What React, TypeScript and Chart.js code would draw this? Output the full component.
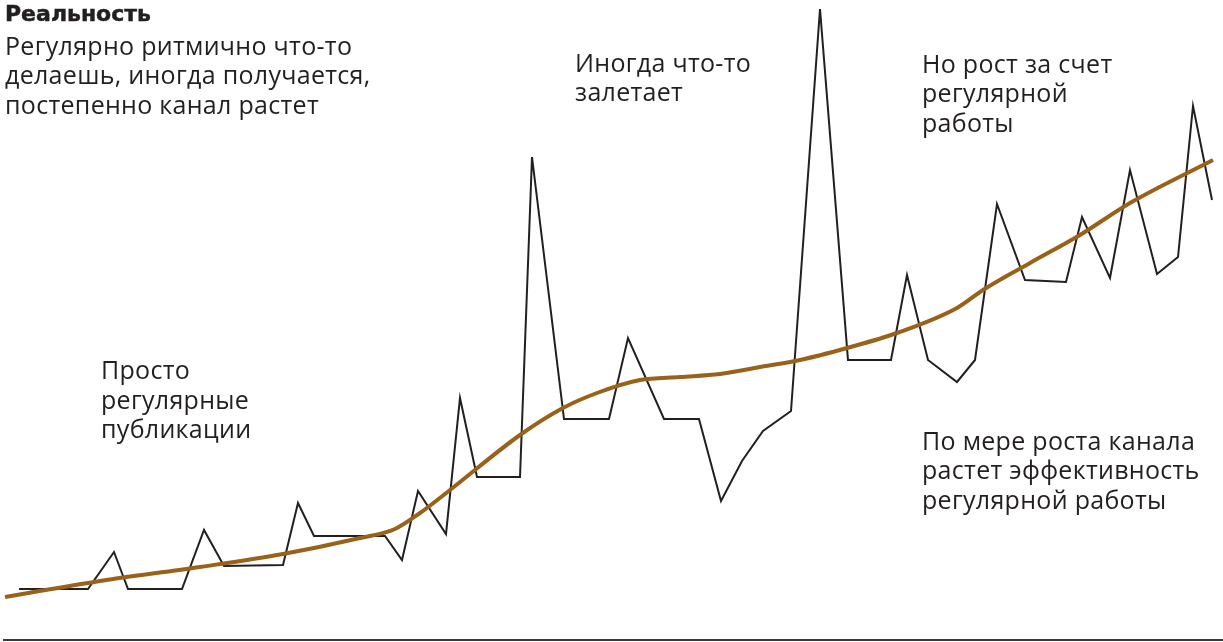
import React, { useEffect, useRef } from "react";
import { Chart, registerables } from "chart.js";

Chart.register(...registerables);

// Weekly timeline (x) and channel growth (y)
const weeks = [19, 88, 114, 128, 182, 204, 224, 283, 298, 314, 385, 402, 418, 446, 460, 477, 520, 532, 564, 609, 628, 664, 699, 721, 742, 763, 791, 820, 848, 891, 907, 928, 957, 975, 997, 1025, 1066, 1082, 1110, 1130, 1157, 1178, 1193, 1212];
const views = [50, 50, 87, 50, 50, 109, 73, 74, 136, 103, 103, 79, 148, 105, 241, 162, 162, 482, 220, 220, 301, 220, 220, 138, 178, 208, 228, 630, 279, 279, 364, 279, 257, 279, 435, 359, 357, 422, 361, 469, 365, 382, 533, 439];

const trendWeeks = [5, 100, 200, 283, 360, 395, 420, 450, 520, 563, 597, 640, 680, 720, 760, 800, 847, 897, 957, 983, 1030, 1080, 1130, 1213];
const trendValues = [42, 58, 72, 85, 101, 110, 126, 149, 204, 231, 246, 259, 262, 265, 272, 279, 291, 306, 331, 349, 376, 404, 436, 479];

const axisWeeks = [3, 1223];
const axisValues = [-1, -1];

const X_MIN = 0;
const X_MAX = 1223;
const Y_MIN = -3;
const Y_MAX = 639;

const TEXT_COLOR = "#231f20";
const FONT = "'Open Sans', 'DejaVu Sans', sans-serif";

type Note = { x: number; y: number; lines: string[] };

const notes: Note[] = [
  { x: 5, y: 30.5, lines: ["Регулярно ритмично что-то", "делаешь, иногда получается,", "постепенно канал растет"] },
  { x: 101, y: 355, lines: ["Просто", "регулярные", "публикации"] },
  { x: 575, y: 47.5, lines: ["Иногда что-то", "залетает"] },
  { x: 922, y: 48.5, lines: ["Но рост за счет", "регулярной", "работы"] },
  { x: 922, y: 425.5, lines: ["По мере роста канала", "растет эффективность", "регулярной работы"] },
];

function toPoints(xs: number[], ys: number[]) {
  return xs.map((x, i) => ({ x, y: ys[i] }));
}

export default function App() {
  const canvasRef = useRef<HTMLCanvasElement | null>(null);

  useEffect(() => {
    if (!canvasRef.current) return;
    const chart = new Chart(canvasRef.current, {
      type: "line",
      data: {
        datasets: [
          {
            label: "axis",
            data: toPoints(axisWeeks, axisValues),
            borderColor: "#3a3a3a",
            borderWidth: 2,
            pointRadius: 0,
            tension: 0,
          },
          {
            label: "trend",
            data: toPoints(trendWeeks, trendValues),
            borderColor: "#98621a",
            borderWidth: 4,
            pointRadius: 0,
            cubicInterpolationMode: "monotone",
          },
          {
            label: "views",
            data: toPoints(weeks, views),
            borderColor: "#231f20",
            borderWidth: 2,
            pointRadius: 0,
            tension: 0,
          },
        ],
      },
      options: {
        animation: false,
        responsive: false,
        maintainAspectRatio: false,
        layout: { padding: 0 },
        plugins: { legend: { display: false }, tooltip: { enabled: false } },
        elements: { line: { borderJoinStyle: "miter" } },
        datasets: { line: { clip: false } as any },
        scales: {
          x: { type: "linear", min: X_MIN, max: X_MAX, display: false },
          y: { type: "linear", min: Y_MIN, max: Y_MAX, display: false },
        },
      },
    });
    return () => chart.destroy();
  }, []);

  return (
    <div style={{ position: "absolute", left: 0, top: 0, width: 1223, height: 642, background: "#fff" }}>
      <canvas ref={canvasRef} width={1223} height={642} style={{ position: "absolute", left: 0, top: 0 }} />
      <div
        style={{
          position: "absolute",
          left: 5,
          top: 0,
          fontFamily: "'DejaVu Sans', sans-serif",
          fontWeight: 700,
          fontSize: 22,
          lineHeight: "28px",
          color: TEXT_COLOR,
          WebkitTextStroke: "0.5px " + TEXT_COLOR,
          whiteSpace: "nowrap",
        }}
      >
        Реальность
      </div>
      {notes.map((n, i) => (
        <div
          key={i}
          style={{
            position: "absolute",
            left: n.x,
            top: n.y,
            fontFamily: FONT,
            fontSize: 25,
            letterSpacing: "0.3px",
            lineHeight: "29.5px",
            color: TEXT_COLOR,
            whiteSpace: "nowrap",
          }}
        >
          {n.lines.map((l, j) => (
            <div key={j}>{l}</div>
          ))}
        </div>
      ))}
    </div>
  );
}
